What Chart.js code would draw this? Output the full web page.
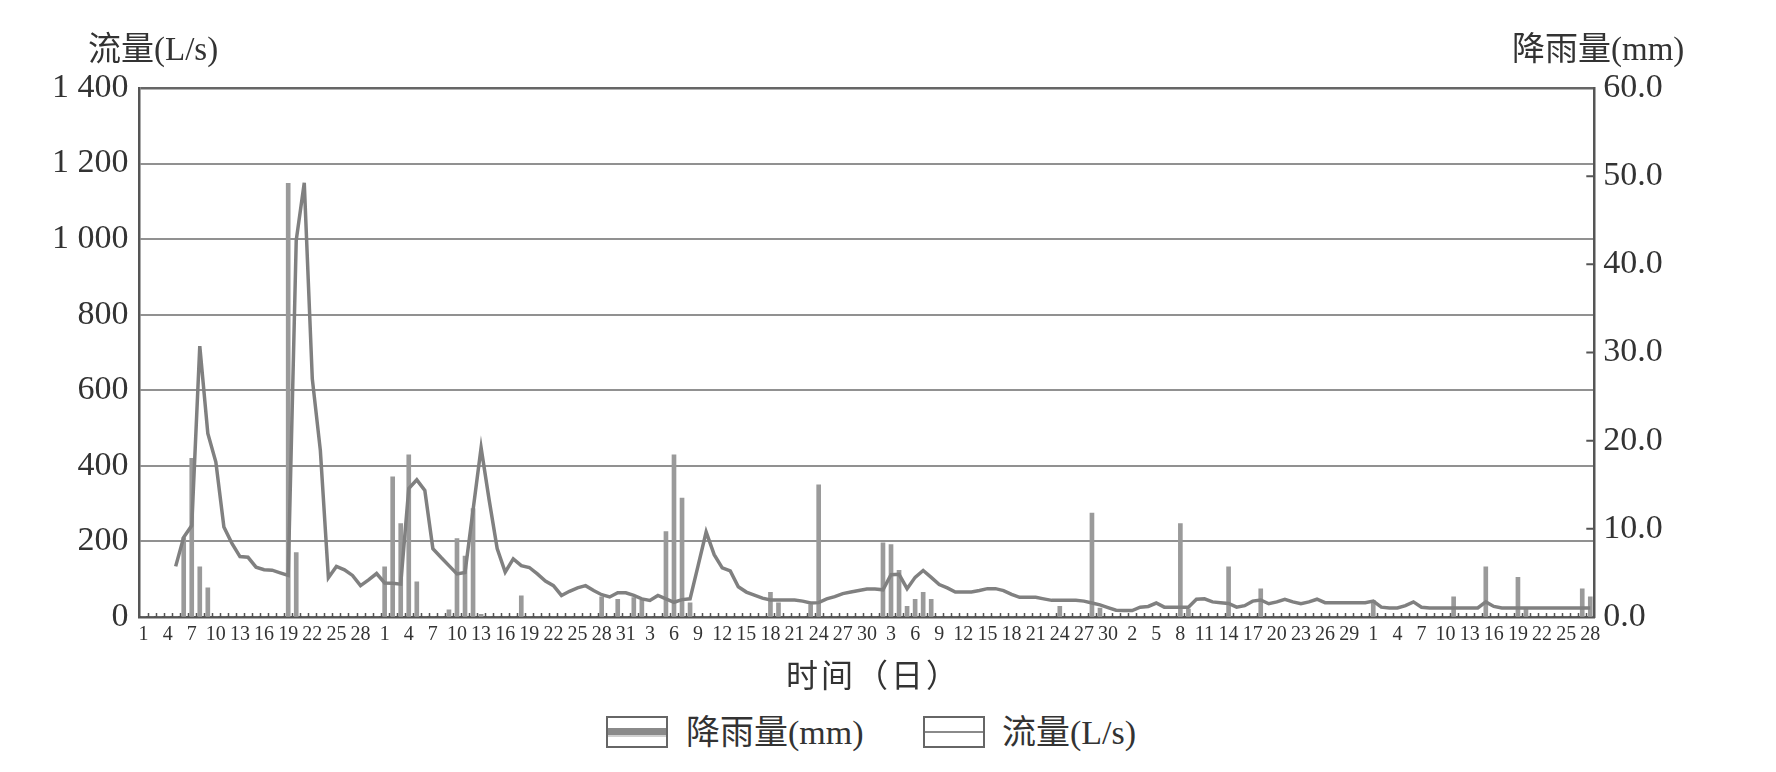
<!DOCTYPE html>
<html>
<head>
<meta charset="utf-8">
<script src="https://cdn.jsdelivr.net/npm/chart.js@4.4.1/dist/chart.umd.min.js"></script>
<style>
  html, body { margin: 0; padding: 0; background: #fff; }
  #wrap { position: relative; width: 1776px; height: 772px; background: #fff; overflow: hidden; }
  #c { position: absolute; left: 0; top: 0; }
  .t { position: absolute; font-family: "Liberation Serif", "Noto Sans CJK SC", serif; color: #333; white-space: nowrap; line-height: 1; }
  .box { position: absolute; width: 58px; height: 28px; border: 2px solid #666; background: #fff; }
  .band { position: absolute; left: 0; right: 0; }
</style>
</head>
<body>
<div id="wrap">
  <canvas id="c" width="1776" height="700" style="width:1776px;height:700px"></canvas>
  <div class="t" style="left:88px;top:33px;font-size:33px;">流量(L/s)</div>
  <div class="t" style="left:1512px;top:33px;font-size:33px;">降雨量(mm)</div>
  <div class="t" style="left:786px;top:660px;font-size:32px;letter-spacing:3px;">时间（日）</div>
  <div class="box" style="left:606px;top:716px;">
    <div class="band" style="top:10px;height:7px;background:#8a8a8a;"></div>
    <div class="band" style="top:17px;height:2px;background:#d0d0d0;"></div>
  </div>
  <div class="t" style="left:686px;top:716px;font-size:34px;">降雨量(mm)</div>
  <div class="box" style="left:923px;top:716px;">
    <div class="band" style="top:13px;height:2px;background:#8a8a8a;"></div>
  </div>
  <div class="t" style="left:1002px;top:716px;font-size:34px;">流量(L/s)</div>
</div>
<script>
// ---- data (April 1 .. September 28, daily) ----
const monthDays = [30, 31, 30, 31, 31, 28];

// flow (L/s)
const flowApr = [null,null,null,null,134,211,242,717,486,410,238,195,160,158,132,125,124,117,110,997,1149,630,441,104,134,125,110,83,98,115];
const flowMay = [90,89,87,340,363,335,181,158,136,114,118,283,448,310,181,119,154,136,131,114,95,83,57,68,77,83,70,59,53,64,64];
const flowJun = [57,48,44,57,48,39,46,48,136,225,165,130,122,80,66,58,50,45,45,45,45,42,37,38,48,54,62,66,70,74];
const flowJul = [74,72,112,113,75,105,123,105,86,77,66,66,66,70,75,75,70,60,52,52,52,48,44,44,44,44,42,37,32,25,18];
const flowAug = [17,17,26,28,37,26,26,26,26,47,48,40,38,36,26,30,42,45,35,40,47,40,35,40,47,38,38,38,38,38,38];
const flowSep = [42,26,24,24,30,40,26,24,24,24,24,24,24,24,40,28,24,24,24,24,24,24,24,24,24,24,24,24];

// rainfall (mm)
const rainApr = [0,0,0,0,0,9.0,18.0,5.7,3.3,0,0,0,0,0,0,0,0,0,49.2,7.3,0,0,0,0,0,0,0,0,0,0];
const rainMay = [5.7,15.9,10.6,18.4,4.0,0,0,0,0.8,8.9,6.9,12.3,0.3,0,0,0,0,2.4,0,0,0,0,0,0,0,0,0,2.3,0,2.0,0];
const rainJun = [2.2,1.9,0,0,9.7,18.4,13.5,1.6,0,0,0,0,0,0,0,0,0,2.8,1.6,0,0,0,1.4,15.0,0,0,0,0,0,0];
const rainJul = [0,8.4,8.2,5.3,1.2,2.0,2.8,2.0,0,0,0,0,0,0,0,0,0,0,0,0,0,0,0,1.2,0,0,0,11.8,1.0,0,0];
const rainAug = [0,0,0,0,0,0,0,10.6,0.9,0,0,0,0,5.7,0,0,0,3.2,0,0,0,0,0,0,0,0,0,0,0,0,0];
const rainSep = [1.9,0,0,0,0,0,0,0,0,0,2.3,0,0,0,5.7,0,0,0,4.5,0.9,0,0,0,0,0,0,3.2,2.3];

// tick values
const flowTicks = [0, 200, 400, 600, 800, 1000, 1200, 1400];
const rainTicks = [0, 10, 20, 30, 40, 50, 60];
const labelEvery = 3;

// ---- build ----
const categories = [];
monthDays.forEach(n => { for (let d = 1; d <= n; d++) categories.push(String(d)); });
const flow = [].concat(flowApr, flowMay, flowJun, flowJul, flowAug, flowSep);
const rain = [].concat(rainApr, rainMay, rainJun, rainJul, rainAug, rainSep);

const W = 1776, H = 700;
const PLOT_L = 139.5, PLOT_R = 1594.3, PLOT_T = 88, PLOT_B = 617;
const FONT = '"Liberation Serif", "Times New Roman", serif';

const innerTicks = {
  id: 'innerTicks',
  afterDraw(chart) {
    const ctx = chart.ctx, a = chart.chartArea;
    const xs = chart.scales.x, y1 = chart.scales.y1;
    ctx.save();
    ctx.strokeStyle = '#555';
    ctx.lineWidth = 1.5;
    const n = categories.length;
    const w = (a.right - a.left) / n;
    ctx.beginPath();
    for (let i = 1; i < n; i++) {
      const px = Math.round(xs.getPixelForTick(i) - w / 2) + 0.5;
      ctx.moveTo(px, a.bottom);
      ctx.lineTo(px, a.bottom - 4);
    }
    ctx.stroke();
    ctx.lineWidth = 2;
    ctx.beginPath();
    y1.ticks.forEach(t => {
      if (t.value > 0 && t.value < 60) {
        const py = y1.getPixelForValue(t.value);
        ctx.moveTo(a.right, py);
        ctx.lineTo(a.right - 8, py);
      }
    });
    ctx.stroke();
    ctx.restore();
  }
};

new Chart(document.getElementById('c'), {
  data: {
    labels: categories,
    datasets: [
      {
        type: 'line',
        label: '流量(L/s)',
        data: flow,
        yAxisID: 'y',
        borderColor: '#808080',
        borderWidth: 3.5,
        pointRadius: 0,
        tension: 0,
        spanGaps: false,
        order: 0
      },
      {
        type: 'bar',
        label: '降雨量(mm)',
        data: rain,
        yAxisID: 'y1',
        backgroundColor: '#9a9a9a',
        borderWidth: 0,
        barThickness: 4,
        order: 1
      }
    ]
  },
  options: {
    responsive: false,
    devicePixelRatio: 1,
    animation: false,
    layout: { padding: { top: PLOT_T, left: 0, right: 0, bottom: 0 } },
    plugins: { legend: { display: false }, tooltip: { enabled: false } },
    scales: {
      x: {
        type: 'category',
        offset: true,
        grid: { display: false, drawTicks: false },
        border: { display: true, color: '#555', width: 2.5 },
        ticks: {
          autoSkip: false, maxRotation: 0, minRotation: 0, padding: 6,
          color: '#333', font: { family: FONT, size: 20 },
          callback: (v, i) => (i % labelEvery === 0 ? categories[i] : '')
        },
        afterFit: s => { s.height = H - PLOT_B; }
      },
      y: {
        position: 'left',
        min: flowTicks[0], max: flowTicks[flowTicks.length - 1],
        afterBuildTicks: s => { s.ticks = flowTicks.map(v => ({ value: v })); },
        grid: {
          drawTicks: false,
          color: c => (c.tick && c.tick.value === 1400 ? '#666' : '#919191'),
          lineWidth: c => (c.tick && c.tick.value === 1400 ? 2.5 : 2)
        },
        border: { display: true, color: '#555', width: 2.5 },
        ticks: {
          padding: 11, color: '#333', font: { family: FONT, size: 34 },
          callback: v => (v >= 1000 ? Math.floor(v / 1000) + ' ' + String(v % 1000).padStart(3, '0') : String(v))
        },
        afterFit: s => { s.width = PLOT_L; }
      },
      y1: {
        position: 'right',
        min: rainTicks[0], max: rainTicks[rainTicks.length - 1],
        afterBuildTicks: s => { s.ticks = rainTicks.map(v => ({ value: v })); },
        grid: { drawOnChartArea: false, drawTicks: false },
        border: { display: true, color: '#555', width: 2.5 },
        ticks: {
          padding: 9, color: '#333', font: { family: FONT, size: 34 },
          callback: v => Number(v).toFixed(1)
        },
        afterFit: s => { s.width = W - PLOT_R; }
      }
    }
  },
  plugins: [innerTicks]
});
</script>
</body>
</html>
